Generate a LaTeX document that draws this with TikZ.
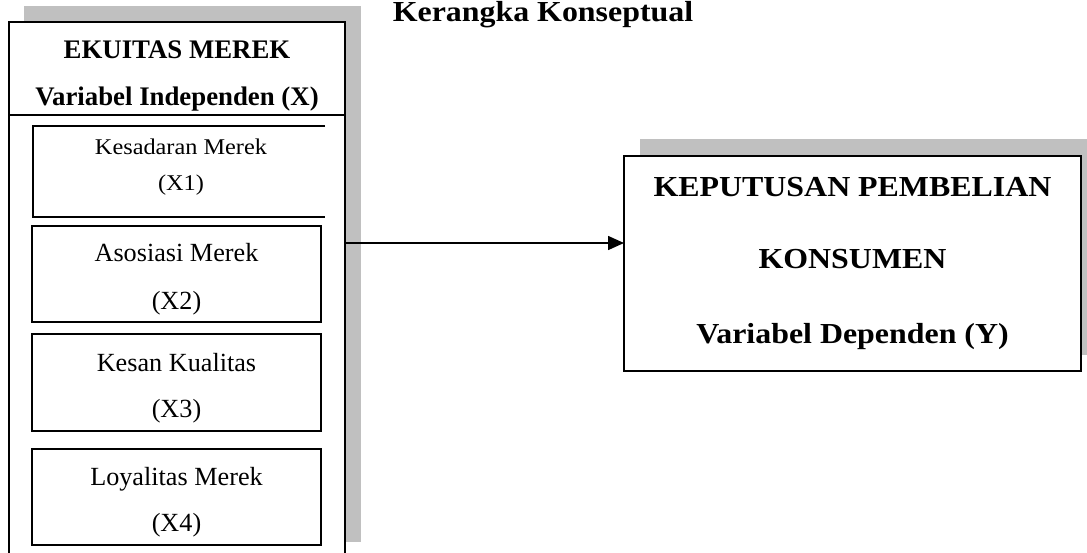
\documentclass[tikz,border=0pt]{standalone}
\usepackage{fontspec}
\setmainfont{Liberation Serif}
\newfontfamily\widefont[FakeStretch=1.1]{Liberation Serif}
\newfontfamily\kfont[FakeStretch=1.08]{Liberation Serif}
\usetikzlibrary{arrows.meta}
\definecolor{shadowgray}{HTML}{C0C0C0}
\begin{document}
\begin{tikzpicture}[x=1pt,y=-1pt,
  box/.style={draw=black, line width=1.7pt, fill=white, inner sep=0pt, outer sep=0pt, anchor=north west},
  subbox/.style={box, minimum width=289pt, minimum height=96pt},
  lbl/.style={anchor=base, inner sep=0pt, outer sep=0pt},
  hdr/.style={lbl, font=\fontsize{26.8}{30}\selectfont\bfseries},
  item/.style={lbl, font=\fontsize{26.2}{30}\selectfont},
  smallitem/.style={lbl, font=\kfont\fontsize{22.5}{26}\selectfont},
  big/.style={lbl, font=\widefont\fontsize{29}{32}\selectfont\bfseries},
  conn/.style={line width=1.6pt, -{Triangle[length=16pt,width=14pt]}}]
\useasboundingbox (0,0) rectangle (1087,552);

% title
\node[big] (title) at (543,21) {Kerangka Konseptual};

% left column: shadow and frame
\fill[shadowgray] (24,6) rectangle (361,542);
\node[box, minimum width=336pt, minimum height=545pt] (outer) at (9,22) {};
\draw[line width=1.7pt] (9,115) -- (345,115);
\node[hdr] (ek) at (177,58) {EKUITAS MEREK};
\node[hdr] (vi) at (177,105) {Variabel Independen (X)};

% X1 (no right side)
\node[inner sep=0pt, outer sep=0pt, minimum width=292pt, minimum height=91pt, anchor=north west] (x1) at (33,126) {};
\draw[line width=1.7pt] (x1.north east) -- (x1.north west) -- (x1.south west) -- (x1.south east);
\node[smallitem] (x1a) at (181,154) {Kesadaran Merek};
\node[smallitem] (x1b) at (181,190) {(X1)};

% X2
\node[subbox] (x2) at (32,226) {};
\node[item] (x2a) at (176.5,261) {Asosiasi Merek};
\node[item] (x2b) at (176.5,309) {(X2)};

% X3
\node[subbox, minimum height=97pt] (x3) at (32,334) {};
\node[item] (x3a) at (176.5,371) {Kesan Kualitas};
\node[item] (x3b) at (176.5,417) {(X3)};

% X4
\node[subbox] (x4) at (32,449) {};
\node[item] (x4a) at (176.5,485) {Loyalitas Merek};
\node[item] (x4b) at (176.5,531) {(X4)};

% right box
\fill[shadowgray] (640,139) rectangle (1095,355);
\node[box, minimum width=457pt, minimum height=215pt] (y) at (624,156) {};
\node[big] (ya) at (852.5,196) {KEPUTUSAN PEMBELIAN};
\node[big] (yb) at (852.5,268) {KONSUMEN};
\node[big] (yc) at (852.5,343) {Variabel Dependen (Y)};

% connector
\coordinate (start) at (outer.east |- 0,243);
\draw[conn] (start) -- (start -| y.west);
\end{tikzpicture}
\end{document}
